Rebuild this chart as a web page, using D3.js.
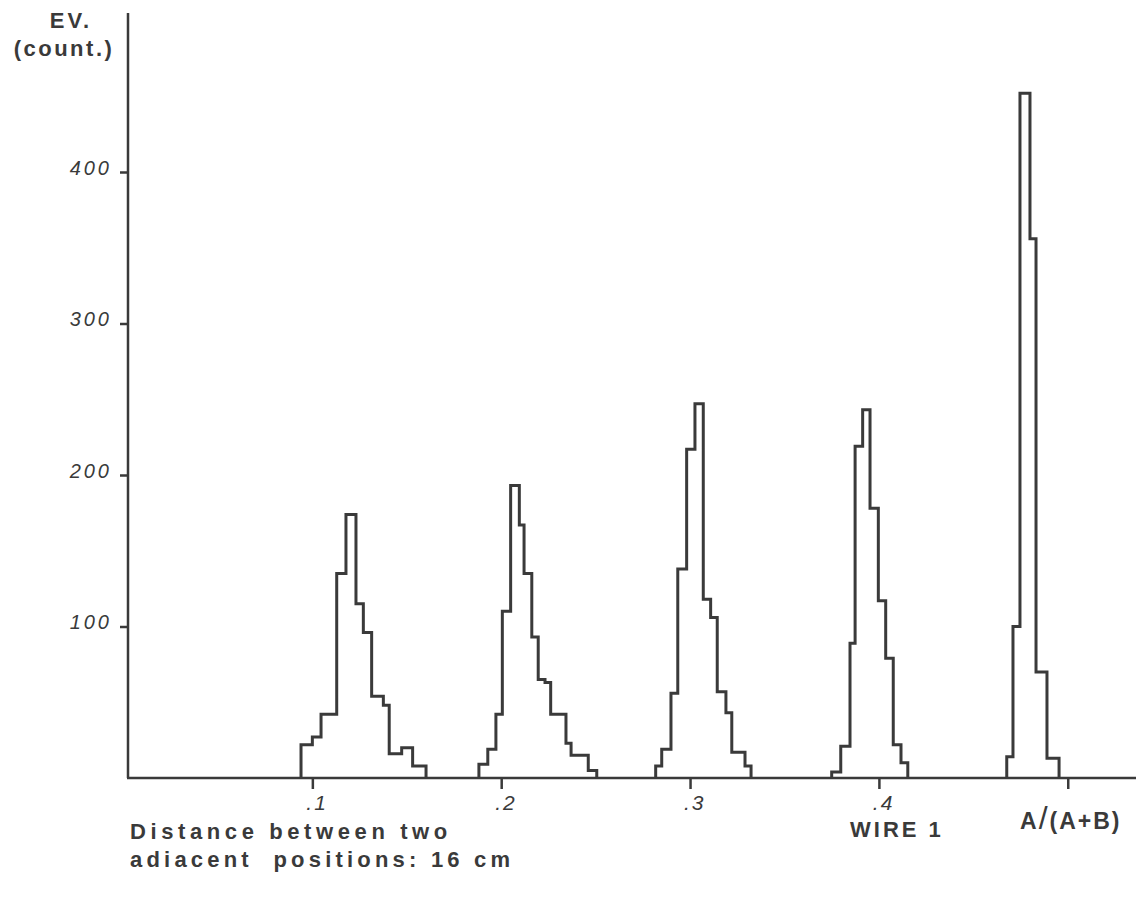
<!DOCTYPE html>
<html>
<head>
<meta charset="utf-8">
<script src="https://cdn.jsdelivr.net/npm/d3@7"></script>
<style>
  body { margin: 0; background: #fff; }
  text { font-family: 'Liberation Sans', Arial, sans-serif; fill: #3a3a3a; }
</style>
</head>
<body>
<script>
const edges1 = [0.0940, 0.1000, 0.1046, 0.1129, 0.1178, 0.1231, 0.1270, 0.1314, 0.1376, 0.1407, 0.1473, 0.1531, 0.1602];
const counts1 = [22, 27, 42, 135, 174, 115, 96, 54, 48, 16, 20, 8];

const edges2 = [0.1882, 0.1929, 0.1972, 0.2006, 0.2050, 0.2096, 0.2121, 0.2162, 0.2196, 0.2232, 0.2262, 0.2343, 0.2370, 0.2461, 0.2506];
const counts2 = [9, 19, 42, 110, 193, 167, 135, 93, 65, 63, 42, 23, 15, 5];

const edges3 = [0.2818, 0.2850, 0.2899, 0.2935, 0.2982, 0.3026, 0.3070, 0.3109, 0.3144, 0.3190, 0.3221, 0.3291, 0.3323];
const counts3 = [8, 19, 56, 138, 217, 247, 118, 106, 57, 43, 17, 8];

const edges4 = [0.3750, 0.3798, 0.3847, 0.3874, 0.3914, 0.3953, 0.3997, 0.4036, 0.4076, 0.4117, 0.4153];
const counts4 = [4, 21, 89, 219, 243, 178, 117, 79, 22, 10];

const edges5 = [0.4677, 0.4710, 0.4747, 0.4800, 0.4832, 0.4890, 0.4954];
const counts5 = [14, 100, 452, 356, 70, 13];

const xTicks = [0.1, 0.2, 0.3, 0.4, 0.5];
const xTickLabels = ['.1', '.2', '.3', '.4', ''];
const yTicks = [100, 200, 300, 400];

const peaks = [
  {edges: edges1, counts: counts1},
  {edges: edges2, counts: counts2},
  {edges: edges3, counts: counts3},
  {edges: edges4, counts: counts4},
  {edges: edges5, counts: counts5}
];

function draw() {
  const width = 1136;
  const height = 898;
  const ink = '#3a3a3a';
  const axisX = 128;

  const x = d3.scaleLinear().domain([0, 0.5]).range([123.5, 1067.75]);
  const y = d3.scaleLinear().domain([0, 400]).range([778, 172]);

  const svg = d3.select('body').append('svg')
      .attr('width', width)
      .attr('height', height)
      .attr('viewBox', [0, 0, width, height]);

  // y axis
  const yAxis = svg.append('g')
      .attr('transform', `translate(${axisX},0)`)
      .call(d3.axisLeft(y).tickValues(yTicks).tickSize(8).tickPadding(8));
  yAxis.select('.domain').remove();
  yAxis.selectAll('line').attr('stroke', ink).attr('stroke-width', 2.5);
  yAxis.selectAll('text')
      .attr('dy', '0.1em')
      .attr('fill', ink)
      .style('font-size', '20px')
      .style('font-style', 'italic')
      .style('letter-spacing', '3px');

  svg.append('line')
      .attr('x1', axisX).attr('x2', axisX)
      .attr('y1', 13).attr('y2', y(0))
      .attr('stroke', ink)
      .attr('stroke-width', 2.5);

  // x axis
  const xAxis = svg.append('g')
      .attr('transform', `translate(0,${y(0)})`)
      .call(d3.axisBottom(x).tickValues(xTicks).tickSize(11).tickPadding(6)
        .tickFormat((d, i) => xTickLabels[i]));
  xAxis.select('.domain').remove();
  xAxis.selectAll('line').attr('stroke', ink).attr('stroke-width', 2.5);
  xAxis.selectAll('text')
      .attr('fill', ink)
      .attr('dx', '0.2em')
      .style('font-size', '21px')
      .style('font-style', 'italic')
      .style('letter-spacing', '2px');

  svg.append('line')
      .attr('x1', axisX - 1).attr('x2', width)
      .attr('y1', y(0)).attr('y2', y(0))
      .attr('stroke', ink)
      .attr('stroke-width', 2.5);

  // histograms
  const line = d3.line()
      .x(d => x(d[0]))
      .y(d => y(d[1]));

  const steps = p => {
    const pts = [[p.edges[0], 0]];
    p.counts.forEach((c, i) => {
      pts.push([p.edges[i], c], [p.edges[i + 1], c]);
    });
    pts.push([p.edges[p.edges.length - 1], 0]);
    return pts;
  };

  svg.append('g')
    .selectAll('path')
    .data(peaks)
    .join('path')
      .attr('d', d => line(steps(d)))
      .attr('fill', 'none')
      .attr('stroke', ink)
      .attr('stroke-width', 3)
      .attr('stroke-linejoin', 'miter');

  // labels
  svg.append('text')
      .attr('x', 71).attr('y', 28)
      .attr('text-anchor', 'middle')
      .style('font-size', '22px')
      .style('font-weight', 'bold')
      .style('letter-spacing', '3px')
      .text('EV.');

  svg.append('text')
      .attr('x', 64).attr('y', 56)
      .attr('text-anchor', 'middle')
      .style('font-size', '22px')
      .style('font-weight', 'bold')
      .style('letter-spacing', '2.5px')
      .text('(count.)');

  const axisTitle = svg.append('text')
      .attr('x', 1020).attr('y', 829)
      .style('font-size', '23px')
      .style('font-weight', 'bold')
      .style('letter-spacing', '2px');
  axisTitle.append('tspan').text('A');
  axisTitle.append('tspan')
      .style('font-size', '32px')
      .style('font-weight', 'normal')
      .text('/');
  axisTitle.append('tspan').text('(A+B)');

  svg.append('text')
      .attr('x', 850).attr('y', 837)
      .style('font-size', '22px')
      .style('font-weight', 'bold')
      .style('letter-spacing', '3px')
      .text('WIRE 1');

  svg.append('text')
      .attr('x', 130).attr('y', 839)
      .style('font-size', '22px')
      .style('font-weight', 'bold')
      .style('letter-spacing', '4.6px')
      .text('Distance between two');

  svg.append('text')
      .attr('x', 130).attr('y', 867)
      .style('font-size', '22px')
      .style('font-weight', 'bold')
      .style('letter-spacing', '4.2px')
      .style('white-space', 'pre')
      .text('adiacent  positions: 16 cm');
}

draw();
</script>
</body>
</html>
